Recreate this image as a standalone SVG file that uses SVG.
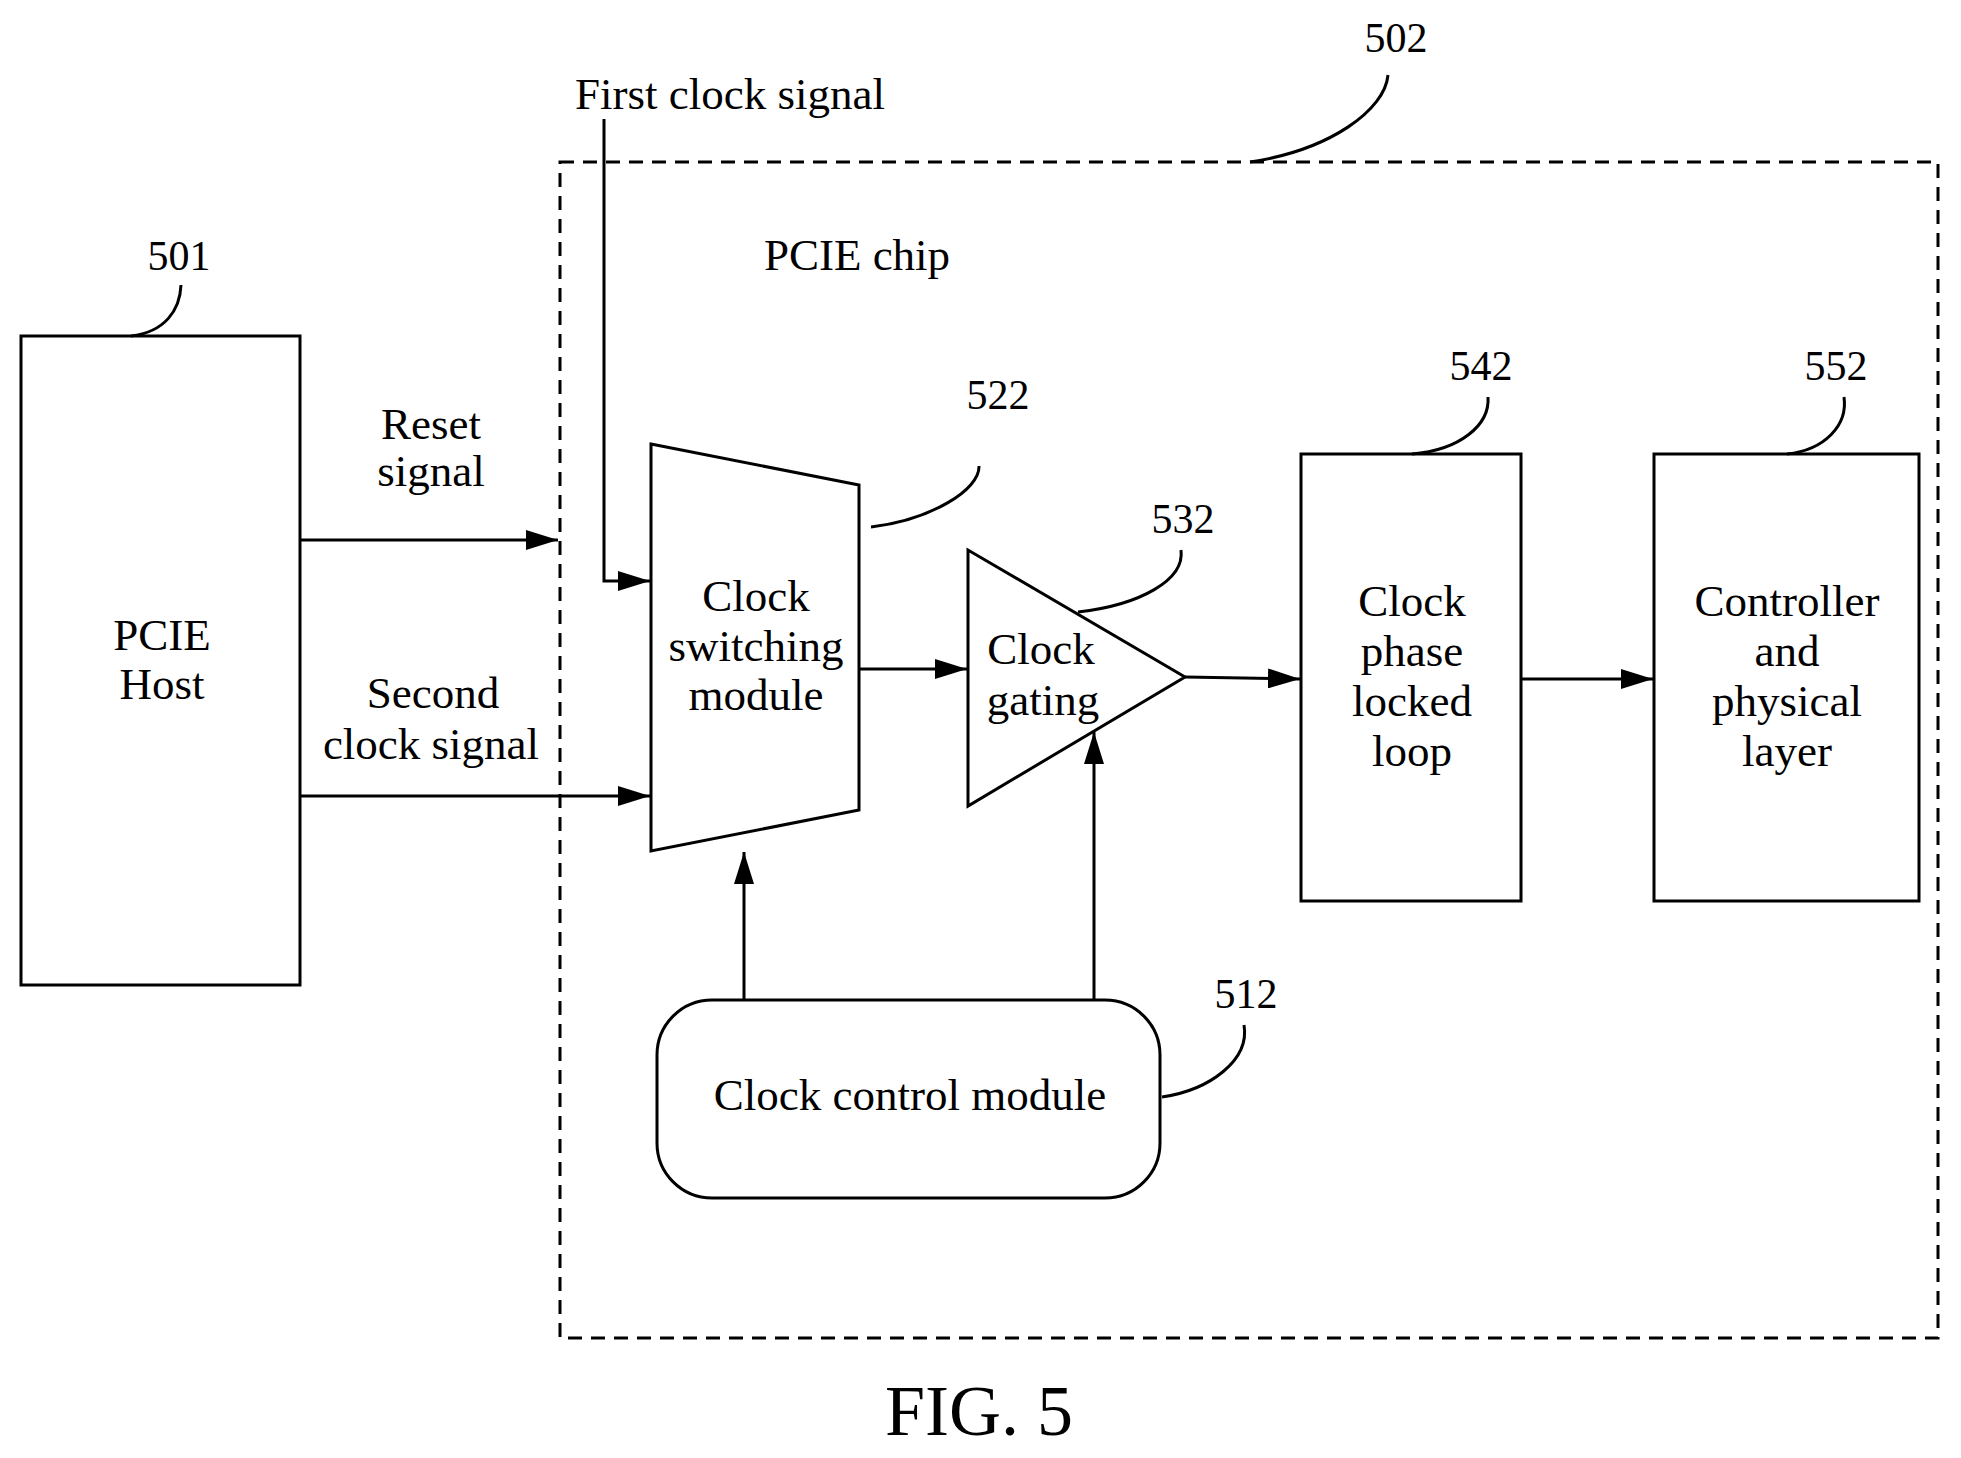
<svg xmlns="http://www.w3.org/2000/svg" width="1961" height="1458" viewBox="0 0 1961 1458">
<defs>
<marker id="ah" markerWidth="32" markerHeight="20" refX="32" refY="10" orient="auto" markerUnits="userSpaceOnUse"><path d="M0,0 L32,10 L0,20 z" fill="#000"/></marker>
<style>
text{font-family:"Liberation Serif",serif;font-size:45px;text-anchor:middle;fill:#000}
.n{font-size:42px}
.s{fill:none;stroke:#000;stroke-width:3}
.c{fill:none;stroke:#000;stroke-width:3;marker-end:url(#ah)}
</style>
</defs>
<rect width="1961" height="1458" fill="#fff"/>
<g id="chip"><rect x="560" y="162" width="1378" height="1176" fill="none" stroke="#000" stroke-width="3" stroke-dasharray="14,9"/><text x="857" y="270">PCIE chip</text><text class="n" x="1396" y="52">502</text><path class="s" d="M1250,162 C1330,150 1385,110 1388,75"/></g>
<g id="host"><rect class="s" x="21" y="336" width="279" height="649"/><text x="162" y="650">PCIE</text><text x="162" y="699">Host</text><text class="n" x="179" y="270">501</text><path class="s" d="M131,336 C165,332 180,310 181,285"/></g>
<g id="mux"><path class="s" d="M651,444 L859,485 L859,810 L651,851 Z"/><text x="756" y="611">Clock</text><text x="756" y="661">switching</text><text x="756" y="710">module</text><text class="n" x="998" y="409">522</text><path class="s" d="M871,527 C930,520 980,490 979,466"/></g>
<g id="gating"><path class="s" d="M968,550 L968,806 L1185,677 Z"/><text x="1041" y="664">Clock</text><text x="1043" y="715">gating</text><text class="n" x="1183" y="533">532</text><path class="s" d="M1078,612 C1140,605 1185,580 1181,550"/></g>
<g id="pll"><rect class="s" x="1301" y="454" width="220" height="447"/><text x="1412" y="616">Clock</text><text x="1412" y="666">phase</text><text x="1412" y="716">locked</text><text x="1412" y="766">loop</text><text class="n" x="1481" y="380">542</text><path class="s" d="M1412,454 C1460,450 1490,425 1488,397"/></g>
<g id="phy"><rect class="s" x="1654" y="454" width="265" height="447"/><text x="1787" y="616">Controller</text><text x="1787" y="666">and</text><text x="1787" y="716">physical</text><text x="1787" y="766">layer</text><text class="n" x="1836" y="380">552</text><path class="s" d="M1787,454 C1825,450 1848,425 1844,397"/></g>
<g id="ctrl"><rect class="s" x="657" y="1000" width="503" height="198" rx="55"/><text x="910" y="1110">Clock control module</text><text class="n" x="1246" y="1008">512</text><path class="s" d="M1162,1097 C1210,1090 1250,1060 1244,1025"/></g>
<g id="connectors">
<text x="730" y="109">First clock signal</text>
<path class="c" d="M604,119 L604,581 L650,581"/>
<text x="431" y="439">Reset</text><text x="431" y="486">signal</text>
<path class="c" d="M300,540 L558,540"/>
<text x="433" y="708">Second</text><text x="431" y="759">clock signal</text>
<path class="c" d="M300,796 L650,796"/>
<path class="c" d="M859,669 L967,669"/>
<path class="c" d="M1185,677 L1300,679"/>
<path class="c" d="M1521,679 L1653,679"/>
<path class="c" d="M744,1000 L744,852"/>
<path class="c" d="M1094,1000 L1094,732"/>
</g>
<text x="979" y="1435" style="font-size:72px">FIG. 5</text>
</svg>
